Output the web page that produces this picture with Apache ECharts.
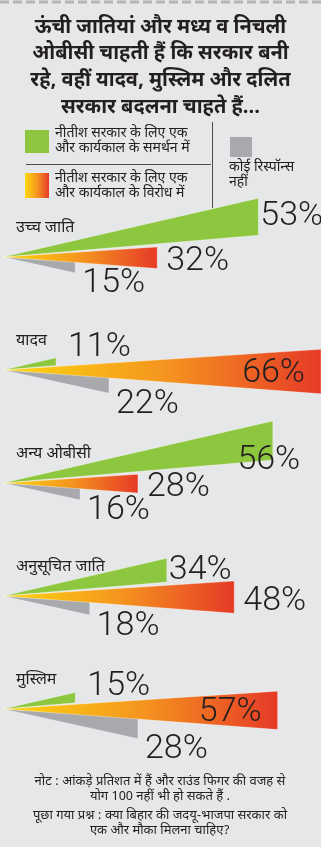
<!DOCTYPE html>
<html><head><meta charset="utf-8">
<script src="https://cdn.jsdelivr.net/npm/echarts@6/dist/echarts.min.js"></script>
<style>html,body{margin:0;padding:0;background:#e6e7e9}#c{width:321px;height:847px}</style>
</head><body><div id="c"></div>
<script>
// ---- data ----
const categories = ['उच्च जाति', 'यादव', 'अन्य ओबीसी', 'अनुसूचित जाति', 'मुस्लिम'];
const support = [53, 11, 56, 34, 15];     // नीतीश सरकार के लिए एक और कार्यकाल के समर्थन में
const oppose = [32, 66, 28, 48, 57];      // ... के विरोध में
const noResponse = [15, 22, 16, 18, 28];  // कोई रिस्पॉन्स नहीं
const titleLines = ['ऊंची जातियां और मध्य व निचली', 'ओबीसी चाहती हैं कि सरकार बनी', 'रहे, वहीं यादव, मुस्लिम और दलित', 'सरकार बदलना चाहते हैं...'];
const legendSupport = ['नीतीश सरकार के लिए एक', 'और कार्यकाल के समर्थन में'];
const legendOppose = ['नीतीश सरकार के लिए एक', 'और कार्यकाल के विरोध में'];
const legendNone = ['कोई रिस्पॉन्स', 'नहीं'];
const noteLines = ['नोट : आंकड़े प्रतिशत में हैं और राउंड फिगर की वजह से', 'योग 100 नहीं भी हो सकते हैं .', 'पूछा गया प्रश्न : क्या बिहार की जदयू-भाजपा सरकार को', 'एक और मौका मिलना चाहिए?'];

// ---- style ----
const W = 321;
const HINDI = '"Noto Sans Devanagari","Lohit Devanagari","Noto Sans",sans-serif';
const NUM = 'Roboto,"Liberation Sans",sans-serif';
const INK = '#231f20', GREEN = '#8dc63f', GRAY = '#a7a9ac';
const grad = () => new echarts.graphic.LinearGradient(0, 0, 1, 0, [
  {offset: 0, color: '#fdd70f'}, {offset: 0.5, color: '#f5961f'}, {offset: 1, color: '#e63a27'}]);
const slopes = {green: [-0.23, -0.085], orange: [-0.065, 0.075], gray: [0.06, 0.22]};
const NUMSIZE = 34;
const labelWidth = v => NUMSIZE * (0.562 * String(v).length + 0.733);

function wedge(kind, fill) {
  return function (params, api) {
    const v = api.value(0), i = api.value(1);
    const a = api.coord([0, i]), e = api.coord([v, i]);
    const L = e[0] - a[0];
    const yT = a[1] + slopes[kind][0] * L, yB = a[1] + slopes[kind][1] * L;
    const kids = [{type: 'polygon', shape: {points: [[a[0], a[1]], [e[0], yT], [e[0], yB]]},
      style: {fill: fill(), stroke: 'rgba(255,255,255,0.55)', lineWidth: 0.6}}];
    const w = labelWidth(v);
    let lx, ly, align = 'left';
    if (kind === 'green') {
      if (L < 80) { lx = e[0] + 12; ly = a[1] - 23; }
      else if (e[0] + w <= 330) { lx = e[0] + 2; ly = (yT + yB) / 2; }
      else { lx = e[0] - 4; ly = yB; align = 'center'; }
    } else if (kind === 'orange') {
      const mid = (yT + yB) / 2;
      if (e[0] + w + 8 <= W) { lx = e[0] + 9; ly = mid + 4; }
      else { lx = e[0] - 16; ly = mid + 2; align = 'right'; }
    } else {
      lx = e[0] + 7; ly = yB + 11;
    }
    kids.push({type: 'text', x: lx, y: ly, z2: 100, style: {text: v + '%', fill: INK,
      fontSize: NUMSIZE, fontWeight: 300, fontFamily: NUM, textAlign: align, textVerticalAlign: 'middle'}});
    if (kind === 'gray') {
      kids.push({type: 'text', x: 16, y: a[1] - 28, z2: 100, style: {text: categories[i], fill: INK,
        fontSize: 16, fontFamily: HINDI, textAlign: 'left', textVerticalAlign: 'middle'}});
    }
    return {type: 'group', children: kids};
  };
}

const graphic = [];
graphic.push({type: 'line', shape: {x1: 0, y1: 2, x2: W, y2: 2}, style: {stroke: '#b5b5b5', lineWidth: 3, lineDash: [9, 4]}});
titleLines.forEach((t, k) => graphic.push({type: 'text', x: 160.5, y: 29 + k * 26.7,
  style: {text: t, fill: INK, fontSize: 20, fontFamily: HINDI, fontWeight: 'bold', textAlign: 'center', textVerticalAlign: 'middle'}}));
const lgText = (lines, x, y0, step) => lines.forEach((t, k) => graphic.push({type: 'text', x: x, y: y0 + k * step,
  style: {text: t, fill: INK, fontSize: 14, fontFamily: HINDI, textAlign: 'left', textVerticalAlign: 'middle'}}));
graphic.push({type: 'rect', shape: {x: 25, y: 130, width: 24, height: 23}, style: {fill: GREEN}});
lgText(legendSupport, 55, 134, 15);
graphic.push({type: 'line', shape: {x1: 26, y1: 164.5, x2: 211, y2: 164.5}, style: {stroke: '#4d4d4d', lineWidth: 1}});
graphic.push({type: 'rect', shape: {x: 25, y: 173, width: 24, height: 25}, style: {fill: grad()}});
lgText(legendOppose, 55, 179, 15);
graphic.push({type: 'line', shape: {x1: 212.5, y1: 122, x2: 212.5, y2: 208}, style: {stroke: '#4d4d4d', lineWidth: 1}});
graphic.push({type: 'rect', shape: {x: 230, y: 137, width: 22, height: 20}, style: {fill: GRAY}});
lgText(legendNone, 229, 168, 15);
noteLines.forEach((t, k) => graphic.push({type: 'text', x: 160, y: [783, 798, 817, 832][k],
  style: {text: t, fill: INK, fontSize: 13, fontFamily: HINDI, textAlign: 'center', textVerticalAlign: 'middle'}}));

const chart = echarts.init(document.getElementById('c'), null, {renderer: 'canvas'});
chart.setOption({
  backgroundColor: '#e6e7e9',
  animation: false,
  grid: {left: 3, right: 0, top: 257, bottom: 138},
  xAxis: {type: 'value', min: 0, max: 66, show: false},
  yAxis: {type: 'category', data: categories, inverse: true, boundaryGap: false, show: false},
  graphic: graphic,
  series: [
    {type: 'custom', name: 'कोई रिस्पॉन्स नहीं', clip: false, renderItem: wedge('gray', () => GRAY),
      encode: {x: 0, y: 1}, data: noResponse.map((v, i) => [v, i])},
    {type: 'custom', name: 'समर्थन में', clip: false, renderItem: wedge('green', () => GREEN),
      encode: {x: 0, y: 1}, data: support.map((v, i) => [v, i])},
    {type: 'custom', name: 'विरोध में', clip: false, renderItem: wedge('orange', grad),
      encode: {x: 0, y: 1}, data: oppose.map((v, i) => [v, i])}
  ]
});
</script></body></html>
